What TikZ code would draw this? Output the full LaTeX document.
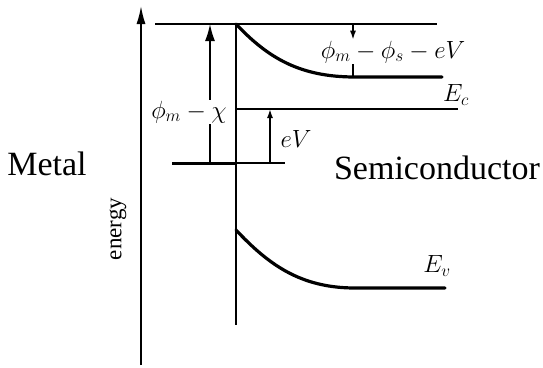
\documentclass[tikz,border=0pt]{standalone}
\usepackage{fontspec}
\setmainfont{Liberation Serif}
\usetikzlibrary{arrows.meta,positioning,calc}

\begin{document}
\begin{tikzpicture}[
  x=1pt, y=-1pt,
  thinline/.style={line width=1.6pt},
  band/.style={line width=3.2pt, line cap=round},
  lbl/.style={inner sep=1pt, font=\fontsize{27}{30}\selectfont},
  txt/.style={inner sep=0pt, font=\fontsize{34}{38}\selectfont},
  bigtip/.style={-{Latex[length=17pt,width=10pt]}},
  smalltip/.style={-{Latex[length=9pt,width=6pt]}},
]
\useasboundingbox (0,0) rectangle (543,367);

%---------- reference points ----------
\coordinate (axbot) at (141,365);
\coordinate (axtop) at (141,6);
\coordinate (vacL) at (155,24);
\coordinate (vacR) at (437,24);
\coordinate (ifTop) at (236,24);
\coordinate (ifBot) at (236,325);
\coordinate (efmL) at (172,163);
\coordinate (efm) at (236,163);
\coordinate (efmR) at (285,163);
\coordinate (ecL) at (236,109);
\coordinate (ecR) at (458,109);
\coordinate (cbR) at (442,77);
\coordinate (vbL) at (236,230);
\coordinate (vbR) at (445,288);
\coordinate (chiFoot) at (210,163);
\coordinate (evFoot) at (270,163);
\coordinate (bendX) at (353,76);

%---------- labels ----------
\node[lbl] (chi) at (189,112) {$\phi_m-\chi$};
\node[lbl] (ev) at (296,139) {$eV$};
\node[lbl] (bend) at (393,52) {$\phi_m-\phi_s-eV$};
\node[lbl] (Ec) at (456,95) {$E_c$};
\node[lbl] (Ev) at (437,266) {$E_v$};
\node[txt] (metal) at (47,164) {Metal};
\node[txt] (semi) at (437,168) {Semiconductor};
\node[txt, rotate=90, font=\fontsize{23}{26}\selectfont] (energy) at (118,229) {energy};

%---------- axis and levels ----------
\draw[thinline, -{Latex[length=18pt,width=9pt]}] (axbot) -- (axtop);
\draw[thinline] (vacL) -- (vacR);
\draw[thinline] (ifTop) -- (ifBot);
\draw[thinline] (ecL) -- (ecR);
\draw[line width=3pt] (efmL) -- (efm);
\draw[thinline] (efm) -- (efmR);

%---------- bands ----------
\draw[band] (ifTop) .. controls (268,58) and (300,77) .. (355,77) -- (cbR);
\draw[band] (vbL) .. controls (268,264) and (300,288) .. (355,288) -- (vbR);

%---------- arrows ----------
\draw[thinline] (chiFoot) -- (chiFoot |- chi.south);
\draw[thinline, bigtip] (chiFoot |- chi.north) -- (chiFoot |- ifTop);
\draw[thinline, smalltip] (evFoot) -- (evFoot |- ecL);
\draw[thinline, smalltip] (bendX |- ifTop) -- (bendX |- bend.north);
\draw[thinline] (bendX |- bend.south) -- (bendX);

\end{tikzpicture}
\end{document}
